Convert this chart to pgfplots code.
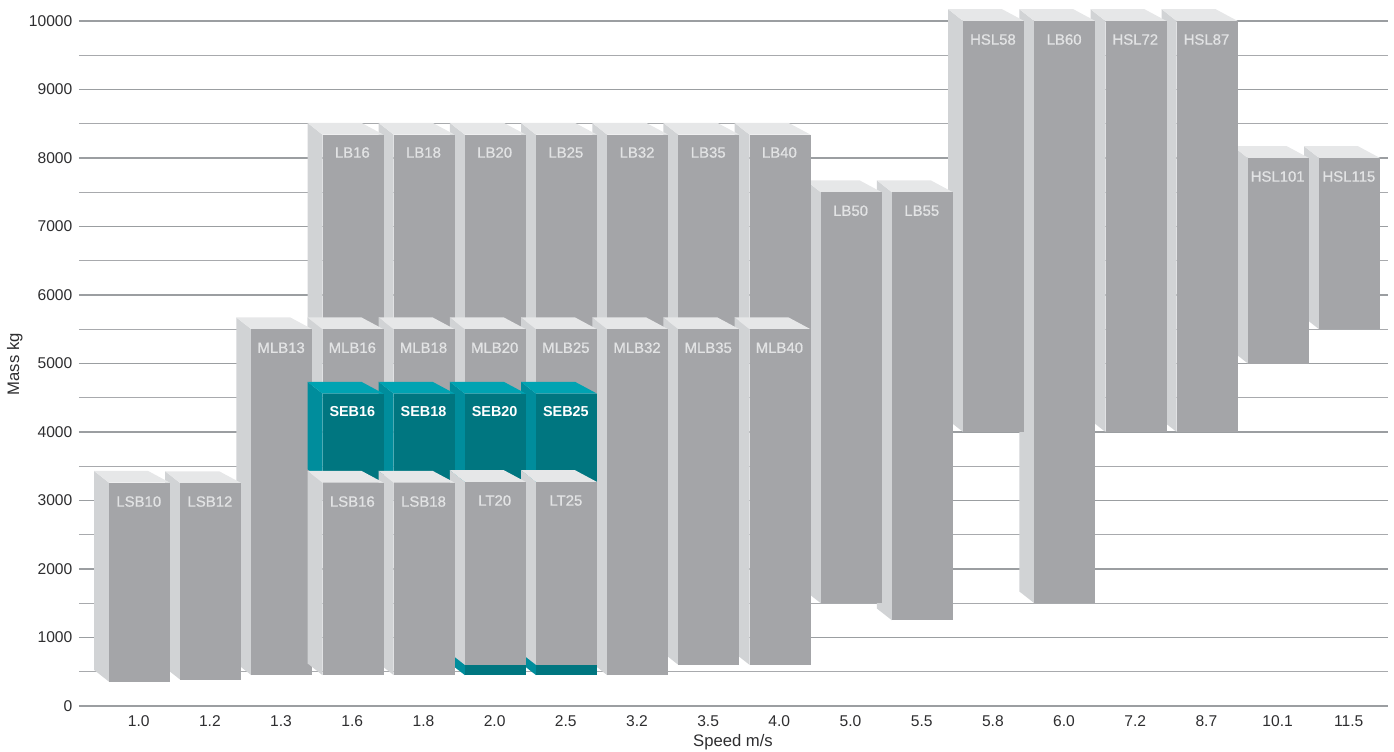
\documentclass[border=0pt]{standalone}
\usepackage{fontspec}
\setmainfont{Liberation Sans}
\newfontfamily\medfont[FakeBold=0.9]{Liberation Sans}
\usepackage{pgfplots}
\pgfplotsset{compat=1.18}

\definecolor{gfront}{HTML}{A4A5A8}
\definecolor{gside}{HTML}{D1D3D5}
\definecolor{gtop}{HTML}{E6E7E8}
\definecolor{tfront}{HTML}{007680}
\definecolor{tside}{HTML}{008D9C}
\definecolor{ttop}{HTML}{00A3B2}
\definecolor{glabel}{HTML}{E2E3E4}
\definecolor{gridmaj}{HTML}{9B9EA1}
\definecolor{gridmin}{HTML}{A8AAAD}
\definecolor{txt}{HTML}{2E2E30}

\tikzset{
  lbl/.style={text=glabel, font=\medfont\fontsize{11.2pt}{13pt}\selectfont, inner sep=0pt},
  tlbl/.style={text=white, font=\bfseries\fontsize{10.8pt}{13pt}\selectfont, inner sep=0pt},
}

% half width of a bar front and the depth offsets, in axis units
\def\hw{0.4285}
\def\ddx{0.2107}
\def\ddr{0.309}
\def\ddy{172}

% one block: index, low, high, front, side, top
\newcommand{\block}[6]{%
  \pgfmathsetmacro\xl{#1-\hw}%
  \pgfmathsetmacro\xr{#1+\hw}%
  \pgfmathsetmacro\xb{#1-\hw-\ddx}%
  \pgfmathsetmacro\xc{#1+\hw-\ddr}%
  \pgfmathsetmacro\yt{#3+\ddy}%
  \pgfmathsetmacro\yb{#2+\ddy}%
  \addplot[fill=#5,draw=none] coordinates {(\xb,\yt) (\xl,#3) (\xl,#2) (\xb,\yb)} -- cycle;
  \addplot[fill=#6,draw=none] coordinates {(\xb,\yt) (\xc,\yt) (\xr,#3) (\xl,#3)} -- cycle;
  \addplot[fill=#4,draw=none] coordinates {(\xl,#3) (\xr,#3) (\xr,#2) (\xl,#2)} -- cycle;
}
\newcommand{\gbar}[3]{\block{#1}{#2}{#3}{gfront}{gside}{gtop}}
\newcommand{\tbar}[3]{\block{#1}{#2}{#3}{tfront}{tside}{ttop}}

\begin{document}
\begin{tikzpicture}
\path[use as bounding box] (-59.25pt,-33.75pt) rectangle (986.25pt,529.5pt);
\begin{axis}[
    scale only axis,
    width=981.75pt, height=513.75pt,
    xmin=-0.85, xmax=17.54,
    ymin=0, ymax=10000,
    clip=false,
    scaled y ticks=false,
    axis line style={draw=none},
    major tick length=0pt, minor tick length=0pt,
    xtick={0,...,17},
    xticklabels={1.0,1.2,1.3,1.6,1.8,2.0,2.5,3.2,3.5,4.0,5.0,5.5,5.8,6.0,7.2,8.7,10.1,11.5},
    ytick={0,1000,2000,3000,4000,5000,6000,7000,8000,9000,10000},
    yticklabels={0,1000,2000,3000,4000,5000,6000,7000,8000,9000,10000},
    minor ytick={500,1500,2500,3500,4500,5500,6500,7500,8500,9500},
    ymajorgrids, yminorgrids,
    major grid style={draw=gridmaj, line width=1.1pt},
    minor grid style={draw=gridmin, line width=0.75pt},
    tick label style={text=txt, font=\fontsize{11.7pt}{13pt}\selectfont},
    xticklabel style={yshift=-3.5pt, xshift=-0.6pt},
    yticklabel style={xshift=-1.5pt},
    xlabel={Speed m/s}, ylabel={Mass kg},
    label style={text=txt, font=\fontsize{12.5pt}{14pt}\selectfont},
    x label style={at={(axis description cs:0.4996,-0.0535)}, anchor=center},
    y label style={at={(axis description cs:-0.049,0.499)}, anchor=center},
]
% top row, right to left
\gbar{17}{5500}{8000}
\gbar{16}{5000}{8000}
\gbar{15}{4000}{10000}
\gbar{14}{4000}{10000}
\gbar{13}{1500}{10000}
\gbar{12}{4000}{10000}
\gbar{11}{1250}{7500}
\gbar{10}{1500}{7500}
\gbar{9}{5000}{8340}
\gbar{8}{5000}{8340}
\gbar{7}{5000}{8340}
\gbar{6}{5000}{8340}
\gbar{5}{5000}{8340}
\gbar{4}{5000}{8340}
\gbar{3}{5000}{8340}
% MLB row
\gbar{9}{600}{5500}
\gbar{8}{600}{5500}
\gbar{7}{450}{5500}
\gbar{6}{3000}{5500}
\gbar{5}{3000}{5500}
\gbar{4}{3000}{5500}
\gbar{3}{3000}{5500}
\gbar{2}{450}{5500}
% SEB row
\tbar{6}{450}{4560}
\tbar{5}{450}{4560}
\tbar{4}{3285}{4560}
\tbar{3}{3285}{4560}
% bottom row
\gbar{6}{600}{3270}
\gbar{5}{600}{3270}
\gbar{4}{450}{3260}
\gbar{3}{450}{3260}
\gbar{1}{385}{3255}
\gbar{0}{355}{3260}

\node[lbl] at (axis cs:-0.01,2985) {LSB10};
\node[lbl] at (axis cs:0.99,2985) {LSB12};
\node[lbl] at (axis cs:1.99,5230) {MLB13};
\node[lbl] at (axis cs:2.99,8080) {LB16};
\node[lbl] at (axis cs:3.99,8080) {LB18};
\node[lbl] at (axis cs:4.99,8080) {LB20};
\node[lbl] at (axis cs:5.99,8080) {LB25};
\node[lbl] at (axis cs:6.99,8080) {LB32};
\node[lbl] at (axis cs:7.99,8080) {LB35};
\node[lbl] at (axis cs:8.99,8080) {LB40};
\node[lbl] at (axis cs:9.99,7230) {LB50};
\node[lbl] at (axis cs:10.99,7230) {LB55};
\node[lbl] at (axis cs:11.99,9730) {HSL58};
\node[lbl] at (axis cs:12.99,9730) {LB60};
\node[lbl] at (axis cs:13.99,9730) {HSL72};
\node[lbl] at (axis cs:14.99,9730) {HSL87};
\node[lbl] at (axis cs:15.99,7730) {HSL101};
\node[lbl] at (axis cs:16.99,7730) {HSL115};
\node[lbl] at (axis cs:2.99,5230) {MLB16};
\node[lbl] at (axis cs:3.99,5230) {MLB18};
\node[lbl] at (axis cs:4.99,5230) {MLB20};
\node[lbl] at (axis cs:5.99,5230) {MLB25};
\node[lbl] at (axis cs:6.99,5230) {MLB32};
\node[lbl] at (axis cs:7.99,5230) {MLB35};
\node[lbl] at (axis cs:8.99,5230) {MLB40};
\node[tlbl] at (axis cs:2.99,4300) {SEB16};
\node[tlbl] at (axis cs:3.99,4300) {SEB18};
\node[tlbl] at (axis cs:4.99,4300) {SEB20};
\node[tlbl] at (axis cs:5.99,4300) {SEB25};
\node[lbl] at (axis cs:2.99,2985) {LSB16};
\node[lbl] at (axis cs:3.99,2985) {LSB18};
\node[lbl] at (axis cs:4.99,3000) {LT20};
\node[lbl] at (axis cs:5.99,3000) {LT25};
\end{axis}
\end{tikzpicture}
\end{document}
